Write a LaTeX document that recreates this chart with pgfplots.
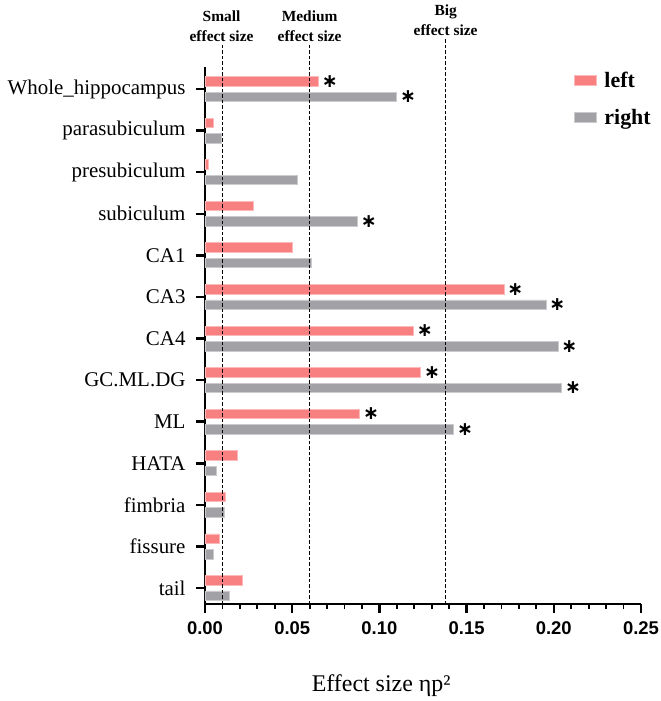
\documentclass[border=0pt]{standalone}
\usepackage{fontspec}
\setmainfont{Liberation Serif}
\setsansfont{Liberation Sans}
\newfontfamily\dejavu{DejaVu Sans}
\usepackage{pgfplots}
\pgfplotsset{compat=1.18}
\definecolor{leftc}{RGB}{248,128,128}
\definecolor{rightc}{RGB}{161,161,166}
\protected\def\st{{\dejavu\bfseries\fontsize{19}{19}\selectfont ∗}}
\protected\def\nost{}
\pgfplotsset{
  mybar/.style={xbar, bar width=9.5bp, line width=0.8bp,
    nodes near coords={\pgfplotspointmeta}, point meta=explicit symbolic,
    every node near coord/.append style={anchor=west, xshift=2bp, inner sep=1bp, black},
    legend image code/.code={\fill[##1] (0bp,-5bp) rectangle (22bp,5bp); \fill[white, draw=none] (24bp,-0.1bp) rectangle (28bp,0.1bp);}},
}
\begin{document}
\begin{tikzpicture}
\begin{axis}[
  scale only axis, width=436bp, height=537bp,
  xmin=0, xmax=0.25, ymin=-0.385, ymax=12.53,
  axis lines*=left, axis line style={line width=2.5bp, -},
  xtick={0,0.05,0.1,0.15,0.2,0.25}, minor x tick num=4,
  ytick={0,...,12},
  yticklabels={tail,fissure,fimbria,HATA,ML,GC.ML.DG,CA4,CA3,CA1,subiculum,presubiculum,parasubiculum,Whole\_hippocampus},
  tick align=outside, major tick length=9bp, minor tick length=5bp,
  every major tick/.append style={black, line width=2.5bp},
  every minor tick/.append style={black, line width=1.8bp},
  x tick label style={font=\sffamily\bfseries\fontsize{18.5}{18.5}\selectfont, yshift=-5bp,
    /pgf/number format/.cd, fixed, fixed zerofill, precision=2, assume math mode=true},
  y tick label style={font=\fontsize{21}{21}\selectfont, xshift=-7bp},
  xlabel={Effect size ηp²},
  xlabel style={font=\fontsize{24}{24}\selectfont, at={(axis description cs:0.404,0)}, anchor=base, yshift=-87bp},
  clip=false,
  legend style={at={(axis description cs:0.846,0.995)}, anchor=north west, draw=none, fill=none,
    font=\bfseries\fontsize{22}{22}\selectfont, row sep=16bp, inner sep=0pt,
    nodes={inner sep=2bp}},
  legend cell align=left,
]
\addplot[mybar, bar shift=7.75bp, fill=leftc, draw=leftc!55!white,
  every node near coord/.append style={yshift=7.75bp}] coordinates {
 (0.065,12) [\st] (0.0048,11) [\nost] (0.0019,10) [\nost] (0.0277,9) [\nost]
 (0.0499,8) [\nost] (0.1714,7) [\st] (0.1195,6) [\st] (0.1237,5) [\st]
 (0.0887,4) [\st] (0.0187,3) [\nost] (0.0119,2) [\nost] (0.008,1) [\nost] (0.0216,0) [\nost]
};
\addlegendentry{left}
\addplot[mybar, bar shift=-7.75bp, fill=rightc, draw=rightc!55!white,
  every node near coord/.append style={yshift=-7.75bp}] coordinates {
 (0.110,12) [\st] (0.0092,11) [\nost] (0.0528,10) [\nost] (0.0875,9) [\st]
 (0.0608,8) [\nost] (0.1955,7) [\st] (0.2024,6) [\st] (0.2045,5) [\st]
 (0.1426,4) [\st] (0.0067,3) [\nost] (0.0109,2) [\nost] (0.0048,1) [\nost] (0.0139,0) [\nost]
};
\addlegendentry{right}
\addplot[black, line width=0.9bp, dash pattern=on 3.5bp off 2bp, forget plot] coordinates {(0.01,-0.385) (0.01,13.06)};
\addplot[black, line width=0.9bp, dash pattern=on 3.5bp off 2bp, forget plot] coordinates {(0.06,-0.385) (0.06,13.06)};
\addplot[black, line width=0.9bp, dash pattern=on 3.5bp off 2bp, forget plot] coordinates {(0.138,-0.385) (0.138,13.2)};
\node[font=\bfseries\fontsize{15.5}{19.5}\selectfont, align=center, anchor=south, inner sep=1bp] at (axis cs:0.0095,13.12) {Small\\effect size};
\node[font=\bfseries\fontsize{15.5}{19.5}\selectfont, align=center, anchor=south, inner sep=1bp] at (axis cs:0.06,13.12) {Medium\\effect size};
\node[font=\bfseries\fontsize{15.5}{19.5}\selectfont, align=center, anchor=south, inner sep=1bp] at (axis cs:0.138,13.26) {Big\\effect size};
\end{axis}
\pgfresetboundingbox
\path (current axis.south west) ++(-205bp,-97bp) rectangle ++(661bp,701bp);
\end{tikzpicture}
\end{document}
